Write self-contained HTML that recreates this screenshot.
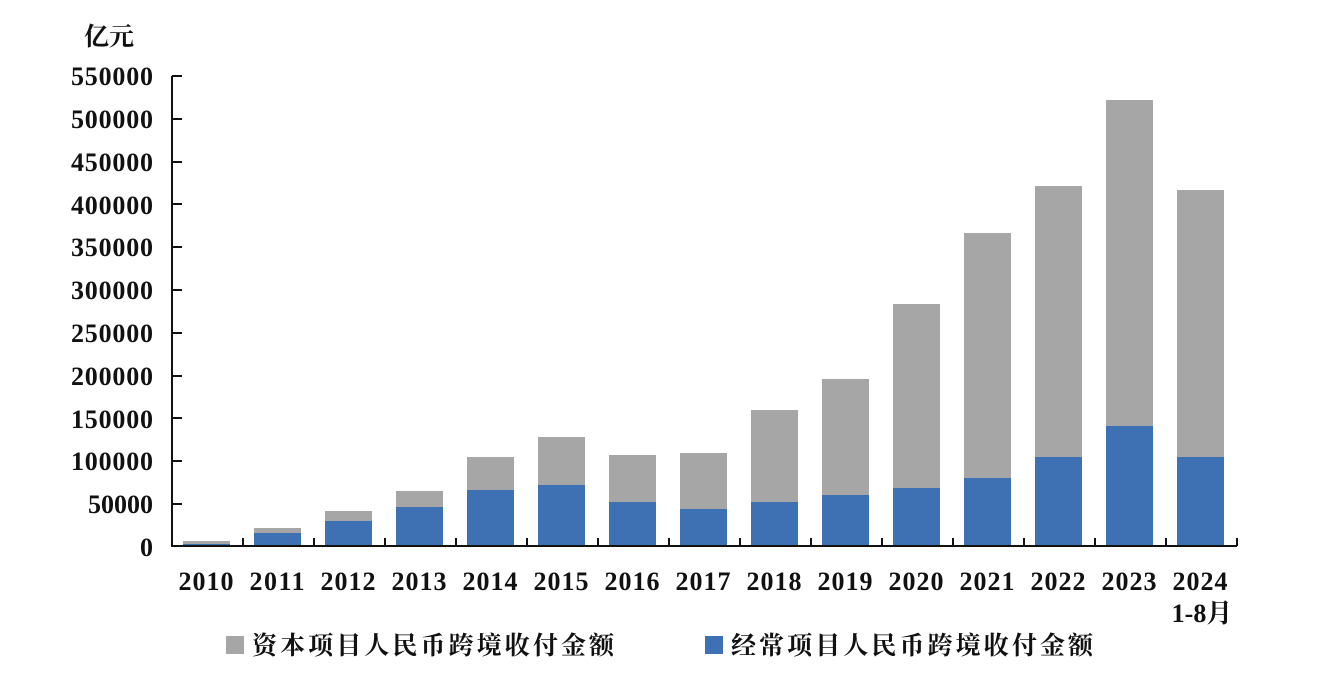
<!DOCTYPE html>
<html><head><meta charset="utf-8"><style>
html,body{margin:0;padding:0;background:#fff;}
svg text{font-family:"Liberation Serif","Noto Serif CJK SC",serif;fill:#111;font-weight:bold;}
</style></head><body>
<svg width="1320" height="694" xmlns="http://www.w3.org/2000/svg">
<text x="84" y="45" font-size="25">亿元</text>
<g font-size="26" text-anchor="end">
<text x="153" y="85" textLength="82">550000</text>
<text x="153" y="128" textLength="82">500000</text>
<text x="153" y="171" textLength="82">450000</text>
<text x="153" y="214" textLength="82">400000</text>
<text x="153" y="256" textLength="82">350000</text>
<text x="153" y="299" textLength="82">300000</text>
<text x="153" y="342" textLength="82">250000</text>
<text x="153" y="385" textLength="82">200000</text>
<text x="153" y="428" textLength="82">150000</text>
<text x="153" y="470" textLength="82">100000</text>
<text x="153" y="513">50000</text>
<text x="153" y="556">0</text>
</g>
<g fill="#a6a6a6">
<rect x="183" y="541" width="47" height="5"/>
<rect x="254" y="528" width="47" height="18"/>
<rect x="325" y="511" width="47" height="35"/>
<rect x="396" y="491" width="47" height="55"/>
<rect x="467" y="457" width="47" height="89"/>
<rect x="538" y="437" width="47" height="109"/>
<rect x="609" y="455" width="47" height="91"/>
<rect x="680" y="453" width="47" height="93"/>
<rect x="751" y="410" width="47" height="136"/>
<rect x="822" y="379" width="47" height="167"/>
<rect x="893" y="304" width="47" height="242"/>
<rect x="964" y="233" width="47" height="313"/>
<rect x="1035" y="186" width="47" height="360"/>
<rect x="1106" y="100" width="47" height="446"/>
<rect x="1177" y="190" width="47" height="356"/>
</g>
<g fill="#3d71b4">
<rect x="183" y="544" width="47" height="2"/>
<rect x="254" y="533" width="47" height="13"/>
<rect x="325" y="521" width="47" height="25"/>
<rect x="396" y="507" width="47" height="39"/>
<rect x="467" y="490" width="47" height="56"/>
<rect x="538" y="485" width="47" height="61"/>
<rect x="609" y="502" width="47" height="44"/>
<rect x="680" y="509" width="47" height="37"/>
<rect x="751" y="502" width="47" height="44"/>
<rect x="822" y="495" width="47" height="51"/>
<rect x="893" y="488" width="47" height="58"/>
<rect x="964" y="478" width="47" height="68"/>
<rect x="1035" y="457" width="47" height="89"/>
<rect x="1106" y="426" width="47" height="120"/>
<rect x="1177" y="457" width="47" height="89"/>
</g>
<g stroke="#111" stroke-width="2" fill="none">
<path d="M172 76 V546 H1237"/>
<path d="M172 76h10M172 119h10M172 162h10M172 204h10M172 247h10M172 290h10M172 333h10M172 376h10M172 418h10M172 461h10M172 504h10"/>
<path d="M243 546v-8M314 546v-8M385 546v-8M456 546v-8M527 546v-8M598 546v-8M669 546v-8M740 546v-8M811 546v-8M882 546v-8M953 546v-8M1024 546v-8M1095 546v-8M1166 546v-8M1237 546v-8"/>
</g>
<g font-size="26" text-anchor="middle">
<text x="206" y="590" textLength="55">2010</text><text x="277" y="590" textLength="55">2011</text><text x="348" y="590" textLength="55">2012</text>
<text x="419" y="590" textLength="55">2013</text><text x="490" y="590" textLength="55">2014</text><text x="561" y="590" textLength="55">2015</text>
<text x="632" y="590" textLength="55">2016</text><text x="703" y="590" textLength="55">2017</text><text x="774" y="590" textLength="55">2018</text>
<text x="845" y="590" textLength="55">2019</text><text x="916" y="590" textLength="55">2020</text><text x="987" y="590" textLength="55">2021</text>
<text x="1058" y="590" textLength="55">2022</text><text x="1129" y="590" textLength="55">2023</text><text x="1200" y="590" textLength="55">2024</text>
<text x="1202" y="622">1-8月</text>
</g>
<rect x="226" y="636" width="18" height="18" fill="#a6a6a6"/>
<text x="252" y="654" font-size="25" textLength="362">资本项目人民币跨境收付金额</text>
<rect x="705" y="636" width="18" height="18" fill="#3d71b4"/>
<text x="731" y="654" font-size="25" textLength="362">经常项目人民币跨境收付金额</text>
</svg>
</body></html>
